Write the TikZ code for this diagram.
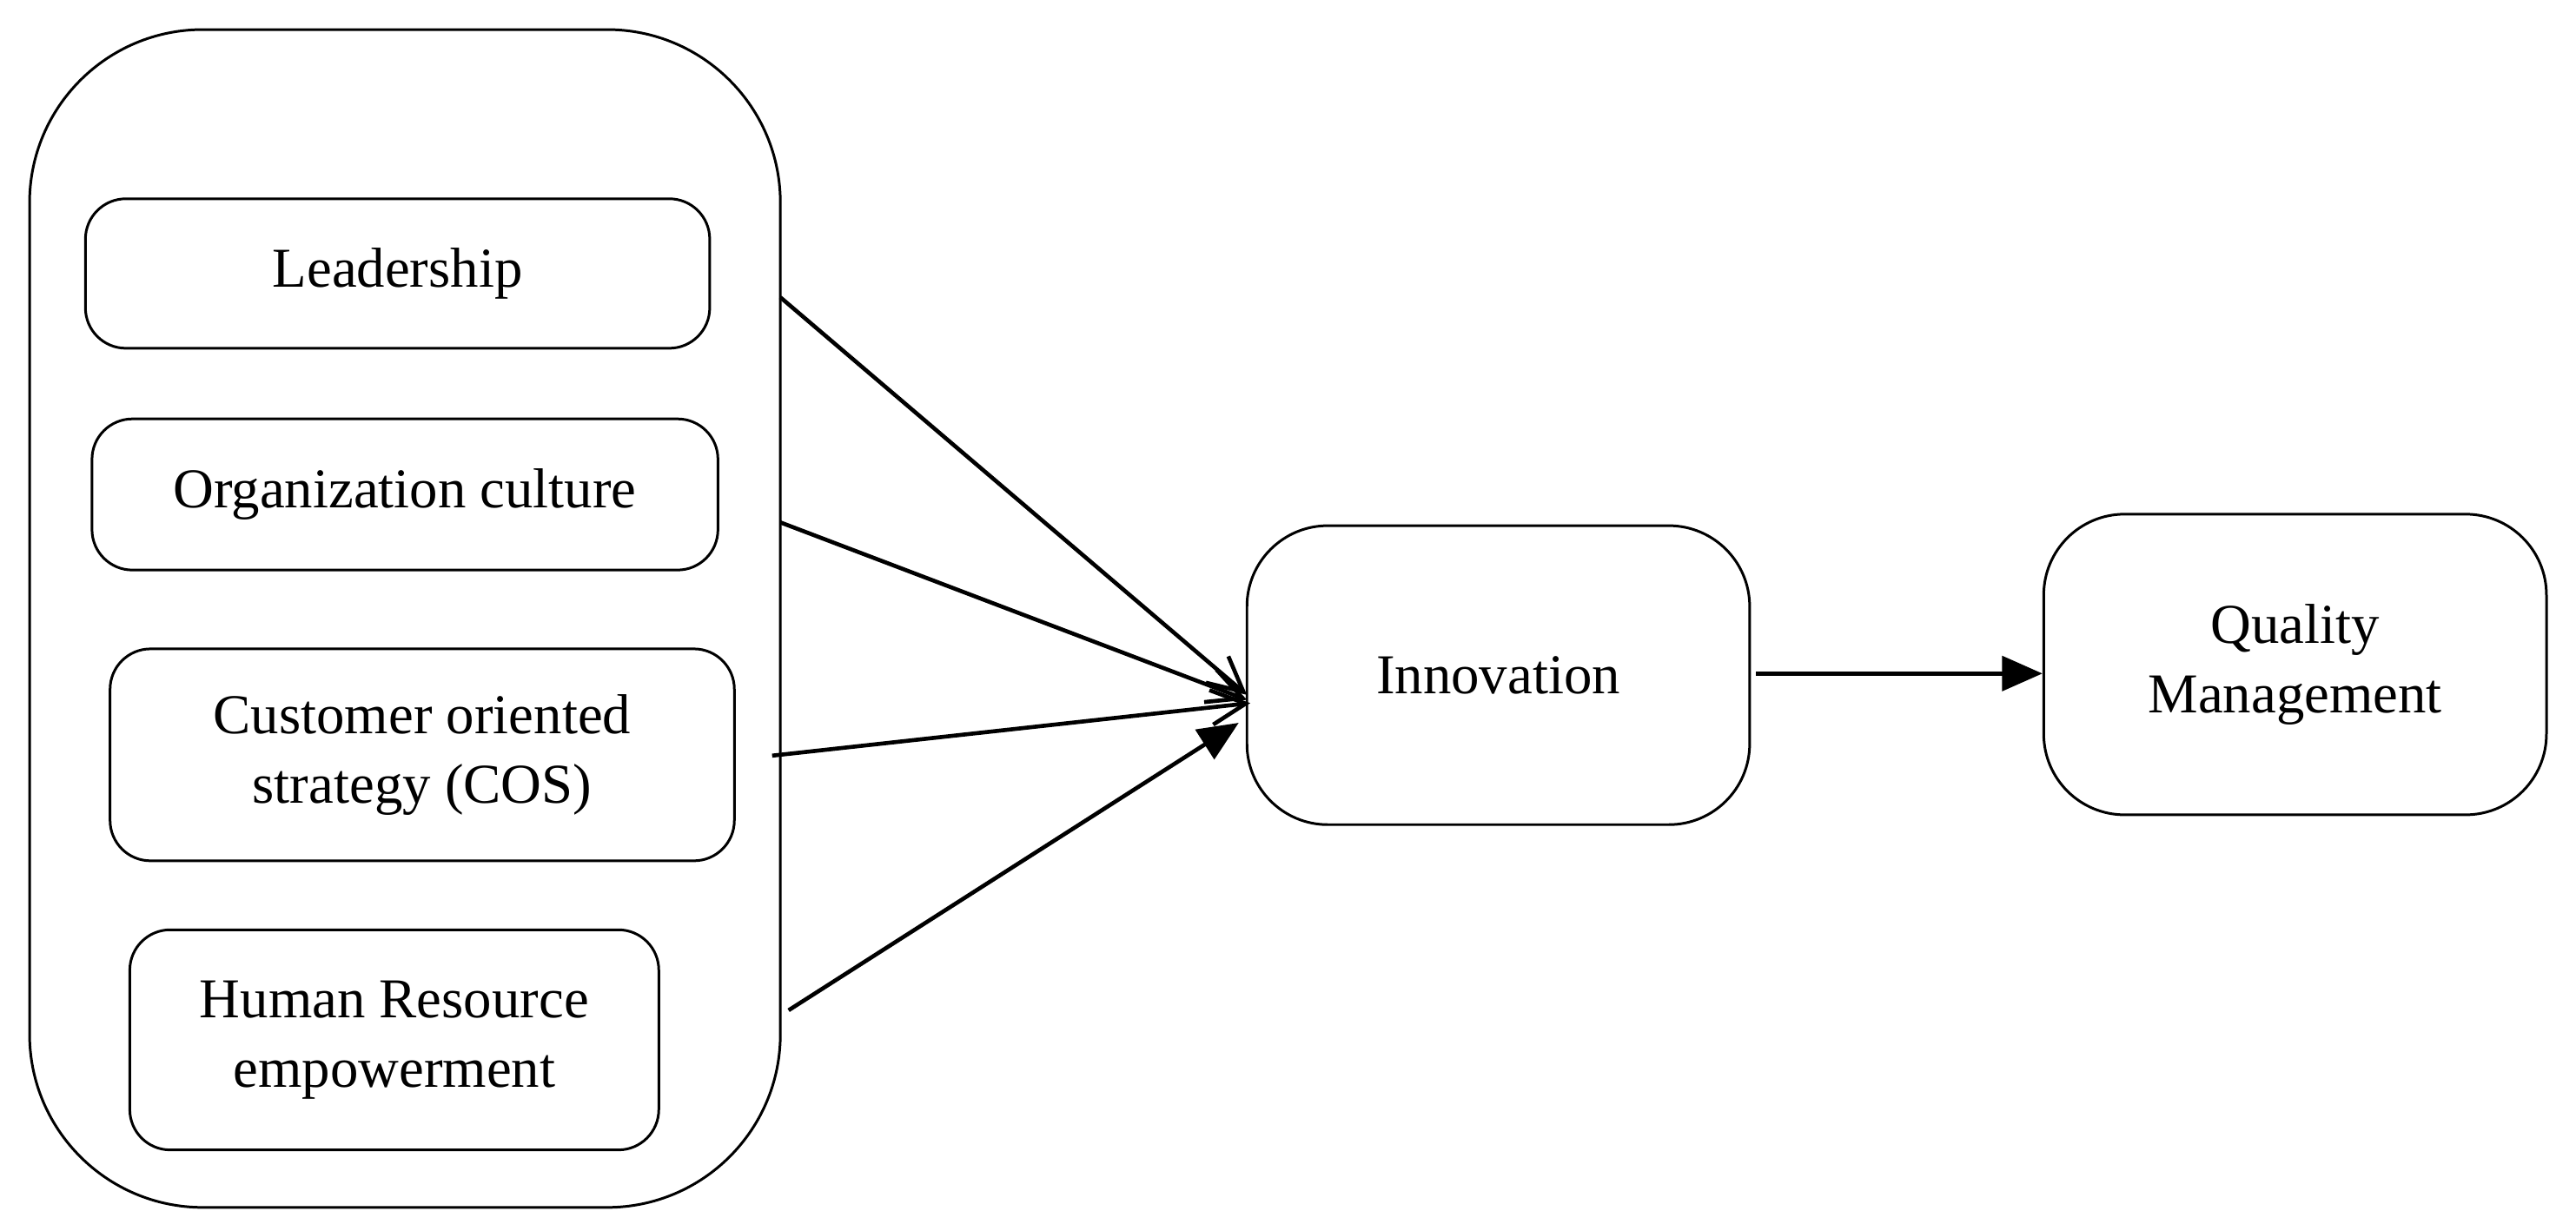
\documentclass[tikz,border=0pt]{standalone}
\usepackage{fontspec}
\setmainfont{Liberation Serif}
\usetikzlibrary{arrows.meta}
\begin{document}
\begin{tikzpicture}[x=0.02cm,y=-0.02cm,
  box/.style={draw,line width=0.9pt,rounded corners=#1,inner sep=0pt,align=center,font=\fontsize{19.5}{24}\selectfont},
  openarr/.style={line width=1.4pt,-{Straight Barb[length=12pt,width=12pt]}},
  fillarr/.style={line width=1.4pt,-{Triangle[length=14pt,width=12pt]}}]
\useasboundingbox (0,0) rectangle (1568,749);
\draw[line width=0.9pt,rounded corners=60] (18,18) rectangle (475,735);
\node[box=14,minimum width=380*0.02cm,minimum height=91*0.02cm] (lead) at (242,166.5) {Leadership};
\node[box=14,minimum width=381*0.02cm,minimum height=92*0.02cm] (org) at (246.5,301) {Organization culture};
\node[box=14,minimum width=380*0.02cm,minimum height=129*0.02cm] (cos) at (257,459.5) {Customer oriented\\strategy (COS)};
\node[box=14,minimum width=322*0.02cm,minimum height=134*0.02cm] (hr) at (240,633) {Human Resource\\empowerment};
\node[box=28,minimum width=306*0.02cm,minimum height=182*0.02cm] (inn) at (912,411) {Innovation};
\node[box=28,minimum width=306*0.02cm,minimum height=183*0.02cm] (qm) at (1397,404.5) {Quality\\Management};
\coordinate (s1) at (475,181);
\coordinate (s2) at (475,318);
\coordinate (s3) at (470,460);
\coordinate (s4) at (480,615);
\coordinate (t1) at (759,423);
\coordinate (t2) at (759,426);
\coordinate (t3) at (761,428);
\coordinate (t4) at (754,440);
\draw[openarr] (s1) -- (t1);
\draw[openarr] (s2) -- (t2);
\draw[openarr] (s3) -- (t3);
\draw[fillarr] (s4) -- (t4);
\draw[fillarr] (inn.east |- 0,410) ++(3,0) -- (qm.west |- 0,410);
\end{tikzpicture}
\end{document}
